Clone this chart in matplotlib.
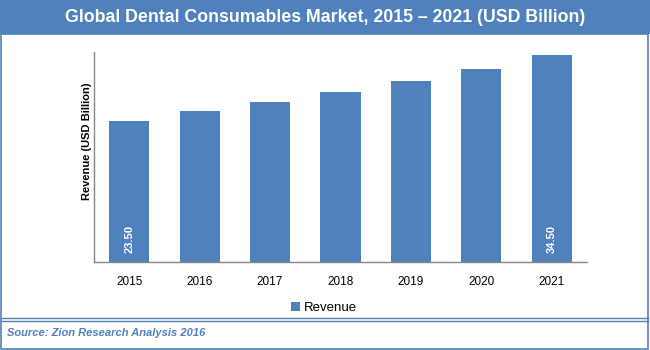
import matplotlib
matplotlib.use("Agg")
import matplotlib.pyplot as plt
from matplotlib.patches import Rectangle
from matplotlib.lines import Line2D

years = ["2015", "2016", "2017", "2018", "2019", "2020", "2021"]
revenue = [23.5, 25.1, 26.7, 28.4, 30.2, 32.2, 34.5]
bar_labels = ["23.50", "", "", "", "", "", "34.50"]

title = "Global Dental Consumables Market, 2015 \u2013 2021 (USD Billion)"
ylabel = "Revenue (USD Billion)"
source = "Source: Zion Research Analysis 2016"

BLUE = "#4F81BD"
W, H = 650, 350

plt.rcParams['font.family'] = ['Liberation Sans', 'DejaVu Sans']

fig = plt.figure(figsize=(6.5, 3.5), dpi=100)


def fx(px):
    return px / W


def fy(py):
    return 1 - py / H


# title banner
fig.patches.append(Rectangle((0, fy(34)), 1, 34 / H, transform=fig.transFigure,
                             facecolor=BLUE, edgecolor="none", zorder=0))
fig.text(0.5, fy(17), title, color="white", fontsize=12.8, fontweight="bold",
         ha="center", va="center")

# frame around chart and source box
fig.patches.append(Rectangle((fx(1), fy(349)), fx(647), (349 - 34) / H,
                             transform=fig.transFigure, facecolor="none",
                             edgecolor=BLUE, linewidth=1.2, zorder=1))
for yy in (318, 321):
    fig.lines.append(Line2D([fx(1), fx(648)], [fy(yy), fy(yy)],
                            transform=fig.transFigure, color=BLUE, linewidth=1.0))

ax = fig.add_axes([fx(94), fy(262), fx(587 - 94), (262 - 52) / H])
x = range(len(years))
bars = ax.bar(x, revenue, width=0.57, color=BLUE)
ax.set_ylim(0, 35)
ax.set_xlim(-0.5, len(years) - 0.5)
ax.set_xticks(list(x))
ax.set_xticklabels(years, fontsize=8.5)
ax.tick_params(axis="x", length=0, pad=10)
ax.set_yticks([])
for s in ("top", "right"):
    ax.spines[s].set_visible(False)
for s in ("left", "bottom"):
    ax.spines[s].set_color("#868686")
    ax.spines[s].set_linewidth(1.0)

for i, lab in enumerate(bar_labels):
    if lab:
        ax.annotate(lab, (i, 0), xytext=(0, 6.5), textcoords="offset points",
                    rotation=90, ha="center", va="bottom", color="white",
                    fontsize=8, fontweight="bold")

fig.text(fx(87), fy(141), ylabel, rotation=90, ha="center", va="center",
         fontsize=8, fontweight="bold")

ax.legend([bars], ["Revenue"], loc="center", bbox_to_anchor=(fx(324), fy(308)),
          bbox_transform=fig.transFigure, frameon=False, fontsize=9.5,
          handlelength=0.7, handleheight=0.7, handletextpad=0.3)

fig.text(fx(7), fy(333), source, color=BLUE, fontsize=8, style="italic",
         fontweight="bold", ha="left", va="center")

fig.savefig("out.png", dpi=100)
